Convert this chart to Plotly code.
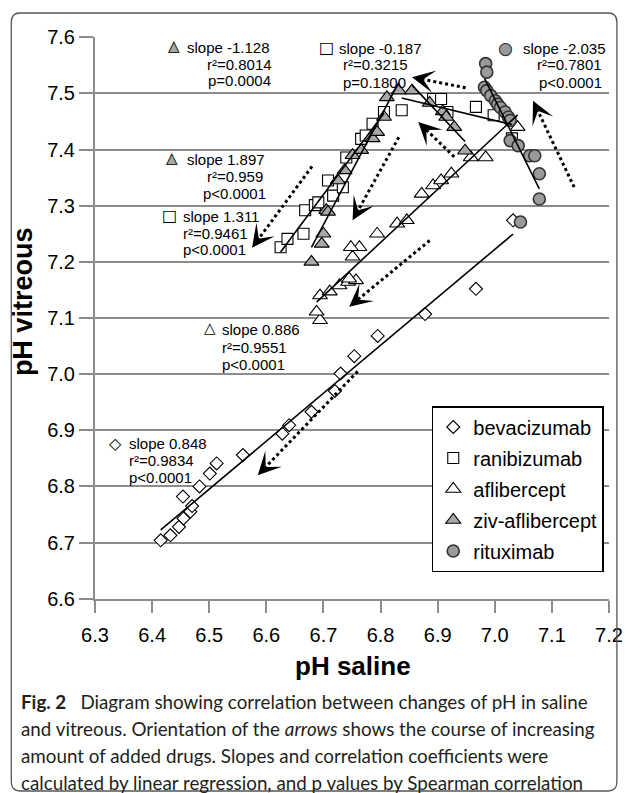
import numpy as np
import plotly.graph_objects as go

# ---------------- data ----------------
bev_x = [6.415, 6.432, 6.447, 6.455, 6.467, 6.470, 6.454, 6.483, 6.501, 6.513, 6.559,
         6.628, 6.640, 6.679, 6.720, 6.730, 6.754, 6.795, 6.878, 6.967, 7.032]
bev_y = [6.704, 6.713, 6.728, 6.743, 6.755, 6.765, 6.782, 6.800, 6.823, 6.841, 6.856,
         6.894, 6.909, 6.933, 6.970, 7.001, 7.032, 7.068, 7.107, 7.152, 7.274]

ran_rise_x = [6.625, 6.637, 6.665, 6.668, 6.685, 6.691, 6.717, 6.708, 6.734, 6.740,
              6.766, 6.774, 6.786, 6.806]
ran_rise_y = [7.226, 7.241, 7.250, 7.292, 7.301, 7.306, 7.318, 7.345, 7.333, 7.386,
              7.419, 7.425, 7.446, 7.467]
ran_flat_x = [6.837, 6.892, 6.906, 6.917, 6.967, 6.998, 7.030]
ran_flat_y = [7.470, 7.490, 7.490, 7.467, 7.476, 7.461, 7.420]

afl_x = [6.694, 6.688, 6.694, 6.711, 6.728, 6.743, 6.757, 6.745, 6.751, 6.763, 6.748,
         6.794, 6.829, 6.846, 6.872, 6.892, 6.906, 6.924, 6.958, 6.984, 7.040]
afl_y = [7.096, 7.111, 7.140, 7.147, 7.158, 7.164, 7.167, 7.170, 7.209, 7.226, 7.226,
         7.250, 7.268, 7.274, 7.321, 7.336, 7.345, 7.357, 7.386, 7.386, 7.440]

ziv_rise_x = [6.679, 6.697, 6.700, 6.705, 6.708, 6.725, 6.737, 6.751, 6.766, 6.786,
              6.794, 6.806, 6.811, 6.832]
ziv_rise_y = [7.200, 7.232, 7.250, 7.292, 7.289, 7.345, 7.363, 7.390, 7.399, 7.420,
              7.431, 7.458, 7.493, 7.505]
ziv_fall_x = [6.855, 6.886, 6.909, 6.915, 6.929, 6.948]
ziv_fall_y = [7.505, 7.483, 7.468, 7.458, 7.440, 7.398]

rit_x = [6.984, 6.986, 6.982, 6.986, 6.993, 7.001, 7.005, 7.010, 7.018, 7.024, 7.027,
         7.027, 7.041, 7.061, 7.070, 7.078, 7.078, 7.045]
rit_y = [7.553, 7.538, 7.511, 7.505, 7.496, 7.487, 7.481, 7.475, 7.467, 7.458, 7.452,
         7.416, 7.407, 7.389, 7.389, 7.357, 7.312, 7.271]

x_ticks = [6.3, 6.4, 6.5, 6.6, 6.7, 6.8, 6.9, 7.0, 7.1, 7.2]
x_tick_labels = ["6.3", "6.4", "6.5", "6.6", "6.7", "6.8", "6.9", "7.0", "7.1", "7.2"]
y_ticks = [6.6, 6.7, 6.8, 6.9, 7.0, 7.1, 7.2, 7.3, 7.4, 7.5, 7.6]
y_tick_labels = ["6.6", "6.7", "6.8", "6.9", "7.0", "7.1", "7.2", "7.3", "7.4", "7.5", "7.6"]

# ---------------- geometry ----------------
OFF = 8                      # default <body> margin of the html page
PAGE_W, PAGE_H = 635, 793
W, H = PAGE_W - OFF, PAGE_H - OFF
PX0, PX1 = 95, 617           # plot area in page pixels
PY0, PY1 = 37, 599
L, R = PX0 - OFF, PAGE_W - PX1
T, B = PY0 - OFF, PAGE_H - PY1
PW, PH = PX1 - PX0, PY1 - PY0
XR = (6.3, 7.2)
YR = (6.6, 7.6)
PXX = PW / (XR[1] - XR[0])
PXY = PH / (YR[1] - YR[0])


def pp(px, py):
    """page pixel -> paper coordinates"""
    return (px - PX0) / PW, (PY1 - py) / PH


ARIAL = "Liberation Sans, Arial, sans-serif"
GRID = "#8c8c8c"

fig = go.Figure()

series = [
    ("bevacizumab", bev_x, bev_y, "diamond", 10, "white", "black", 1.1),
    ("ranibizumab", ran_rise_x + ran_flat_x, ran_rise_y + ran_flat_y, "square", 11, "white", "black", 1.1),
    ("aflibercept", afl_x, afl_y, "triangle-up", 13, "white", "black", 1.1),
    ("ziv-aflibercept", ziv_rise_x + ziv_fall_x, ziv_rise_y + ziv_fall_y, "triangle-up", 13, "#a8a8a8", "black", 1.1),
    ("rituximab", rit_x, rit_y, "circle", 12, "#9a9a9a", "#333333", 1.6),
]
for name, xs, ys, sym, size, fill, lc, lw in series:
    fig.add_trace(go.Scatter(
        x=xs, y=ys, mode="markers", name=name, legendgroup=name,
        marker=dict(symbol=sym, size=size, color=fill, line=dict(color=lc, width=lw)),
    ))


def fit(xs, ys):
    m, b = np.polyfit(xs, ys, 1)
    x0, x1 = min(xs), max(xs)
    return [x0, x1], [m * x0 + b, m * x1 + b]


for xs, ys in [(bev_x, bev_y), (ran_rise_x, ran_rise_y), (ran_flat_x, ran_flat_y),
               (afl_x, afl_y), (ziv_rise_x, ziv_rise_y), (ziv_fall_x, ziv_fall_y),
               (rit_x, rit_y)]:
    lx, ly = fit(xs, ys)
    fig.add_trace(go.Scatter(x=lx, y=ly, mode="lines", showlegend=False,
                             line=dict(color="black", width=1.6), hoverinfo="skip"))

# dotted arrows (start -> tip), annotation geometry
arrows = [
    (6.760, 7.005, 6.585, 6.820),
    (6.886, 7.238, 6.745, 7.120),
    (6.680, 7.370, 6.575, 7.225),
    (6.832, 7.422, 6.751, 7.274),
    (6.929, 7.387, 6.866, 7.449),
    (6.949, 7.510, 6.855, 7.529),
    (7.139, 7.333, 7.067, 7.487),
]
annotations = []
for sx, sy, tx, ty in arrows:
    dx, dy = (sx - tx) * PXX, (sy - ty) * PXY
    ln = (dx * dx + dy * dy) ** 0.5
    ux, uy = (sx - tx) / ln, (sy - ty) / ln  # data units per pixel along direction
    ex, ey = tx + ux * 10, ty + uy * 10
    fig.add_trace(go.Scatter(x=[sx, ex], y=[sy, ey], mode="lines", showlegend=False,
                             line=dict(color="black", width=3, dash="dot"), hoverinfo="skip"))
    annotations.append(dict(
        x=tx, y=ty, ax=tx + ux * 12, ay=ty + uy * 12, xref="x", yref="y",
        axref="x", ayref="y", text="", showarrow=True, arrowhead=3,
        arrowsize=1.9, arrowwidth=2, arrowcolor="black", standoff=0,
    ))


def txt(px, py, s, anchor="left", size=15, fam=ARIAL, color="black"):
    x, y = pp(px, py)
    annotations.append(dict(x=x, y=y, xref="paper", yref="paper", text=s,
                            showarrow=False, xanchor=anchor, yanchor="middle",
                            font=dict(family=fam, size=size, color=color)))


GLYPH = "DejaVu Sans"


def icon(px, py, kind):
    if kind == "tri_grey":
        txt(px, py, "▲", "center", 15, GLYPH, "#a8a8a8")
        txt(px, py, "△", "center", 15, GLYPH, "black")
    elif kind == "tri":
        txt(px, py, "△", "center", 15, GLYPH, "black")
    elif kind == "sq":
        txt(px, py, "□", "center", 16, GLYPH, "black")
    elif kind == "dia":
        txt(px, py, "◇", "center", 16, GLYPH, "black")
    elif kind == "circ":
        txt(px, py, "●", "center", 17, GLYPH, "#9a9a9a")
        txt(px, py, "○", "center", 17, GLYPH, "#333333")


# stat labels
icon(175, 46, "tri_grey")
txt(186, 47, "slope -1.128")
txt(207, 64, "r²=0.8014")
txt(208, 81, "p=0.0004")

icon(173, 158, "tri_grey")
txt(186, 159, "slope 1.897")
txt(207, 176, "r²=0.959")
txt(203, 193, "p<0.0001")

icon(171, 215, "sq")
txt(182, 216, "slope 1.311")
txt(182, 233, "r²=0.9461")
txt(182, 250, "p<0.0001")

icon(330, 47, "sq")
txt(341, 48, "slope -0.187")
txt(345, 65, "r²=0.3215")
txt(345, 82, "p=0.1800")

icon(512, 48, "circ")
txt(528, 48, "slope -2.035")
txt(612, 65, "r²=0.7801", "right")
txt(612, 82, "p<0.0001", "right")

icon(212, 328, "tri")
txt(222, 330, "slope 0.886")
txt(222, 347, "r²=0.9551")
txt(222, 364, "p<0.0001")

icon(116, 443, "dia")
txt(128, 443, "slope 0.848")
txt(128, 460, "r²=0.9834")
txt(128, 477, "p<0.0001")

# axis titles
x, y = pp(22, 302)
annotations.append(dict(x=x, y=y, xref="paper", yref="paper", text="<b>pH vitreous</b>",
                        showarrow=False, textangle=-90, xanchor="center", yanchor="middle",
                        font=dict(family=ARIAL, size=27, color="black")))
x, y = pp(357, 666)
annotations.append(dict(x=x, y=y, xref="paper", yref="paper", text="<b>pH saline</b>",
                        showarrow=False, xanchor="center", yanchor="middle",
                        font=dict(family=ARIAL, size=26, color="black")))

# caption
CAP = "Lato, Open Sans, sans-serif"
cap_lines = [
    "<b>Fig. 2</b>\u2002 Diagram showing correlation between changes of pH in saline",
    "and vitreous. Orientation of the <i>arrows</i> shows the course of increasing",
    "amount of added drugs. Slopes and correlation coefficients were",
    "calculated by linear regression, and p values by Spearman correlation",
]
for i, s in enumerate(cap_lines):
    txt(18, 701 + i * 27, s, "left", 18.8, CAP, "#231f20")

# rounded frame
fx0, fy0 = pp(10, 13)
fx1, fy1 = pp(625, 791)
rx, ry = 9 / PW, 9 / PH
path = (f"M{fx0 + rx},{fy0} L{fx1 - rx},{fy0} Q{fx1},{fy0} {fx1},{fy0 - ry} "
        f"L{fx1},{fy1 + ry} Q{fx1},{fy1} {fx1 - rx},{fy1} "
        f"L{fx0 + rx},{fy1} Q{fx0},{fy1} {fx0},{fy1 + ry} "
        f"L{fx0},{fy0 - ry} Q{fx0},{fy0} {fx0 + rx},{fy0} Z")

lx_, ly_ = pp(437, 406)
fig.update_layout(
    width=W, height=H, margin=dict(l=L, r=R, t=T, b=B, pad=0),
    paper_bgcolor="white", plot_bgcolor="white",
    showlegend=True,
    legend=dict(x=lx_, y=ly_, xanchor="left", yanchor="top", bgcolor="white",
                bordercolor="black", borderwidth=1.5, traceorder="grouped",
                tracegroupgap=2, font=dict(family=ARIAL, size=20, color="black")),
    xaxis=dict(range=[XR[0], XR[1]], tickvals=x_ticks, ticktext=x_tick_labels,
               showgrid=False, zeroline=False, showline=True, linecolor=GRID, linewidth=2,
               ticks="outside", ticklen=12, tickwidth=2, tickcolor=GRID,
               ticklabelstandoff=5, tickfont=dict(family=ARIAL, size=20, color="black")),
    yaxis=dict(range=[YR[0] - 0.0005, YR[1] + 0.0005], tickvals=y_ticks, ticktext=y_tick_labels,
               showgrid=True, gridcolor=GRID, gridwidth=2, zeroline=False,
               showline=True, linecolor=GRID, linewidth=2,
               ticks="outside", ticklen=14, tickwidth=2, tickcolor=GRID,
               tickfont=dict(family=ARIAL, size=20, color="black")),
    annotations=annotations,
    shapes=[dict(type="path", path=path, xref="paper", yref="paper",
                 line=dict(color="#555555", width=1.3), layer="above")],
)

fig.write_html("out.html")
